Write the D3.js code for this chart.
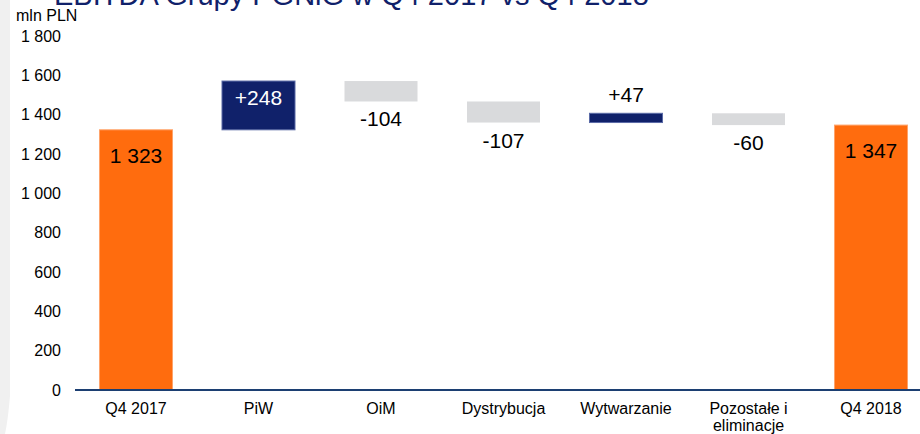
<!DOCTYPE html>
<html>
<head>
<meta charset="utf-8">
<script src="https://cdn.jsdelivr.net/npm/d3@7"></script>
<style>
  html, body { margin: 0; padding: 0; background: #ffffff; }
  svg { display: block; font-family: "Liberation Sans", Arial, sans-serif; }
</style>
</head>
<body>
<svg id="chart" width="920" height="434"></svg>
<script>
// EBITDA bridge, mln PLN
const categories = ["Q4 2017", "PiW", "OiM", "Dystrybucja", "Wytwarzanie", "Pozostałe i\neliminacje", "Q4 2018"];
const values = [1323, 248, -104, -107, 47, -60, 1347];
const kinds = ["total", "delta", "delta", "delta", "delta", "delta", "total"];
const yTicks = [0, 200, 400, 600, 800, 1000, 1200, 1400, 1600, 1800];
const titleText = "EBITDA Grupy PGNiG w Q4 2017 vs Q4 2018";
const unitText = "mln PLN";

const colors = { total: "#ff6c0e", up: "#10216a", down: "#d9dadc", axis: "#1c3f72", title: "#10216a" };

const svg = d3.select("#chart");
const W = 920, H = 434;

// page frame: grey strip on the left, white panel with rounded lower corner
svg.append("rect").attr("x", 0).attr("y", 0).attr("width", 14).attr("height", H).attr("fill", "#f0f0f0");
svg.append("path")
  .attr("d", `M10,0 L${W},0 L${W},${H} L5,${H} Q8,420 10,396 Z`)
  .attr("fill", "#ffffff");

const x = d3.scaleBand().domain(categories).range([74.75, 932.25]).paddingInner(0.404).paddingOuter(0.202);
const y = d3.scaleLinear().domain([0, 1800]).range([390, 36]);

// running totals for the bridge
let running = 0;
const bars = categories.map((c, i) => {
  const v = values[i];
  let lo, hi;
  if (kinds[i] === "total") { lo = 0; hi = v; running = v; }
  else { const s = running; running = s + v; lo = Math.min(s, running); hi = Math.max(s, running); }
  return { c, v, kind: kinds[i], lo, hi };
});

// title (runs past the top edge)
svg.append("text").attr("x", 54).attr("y", 5)
  .attr("fill", colors.title).attr("font-size", 29)
  .text(titleText);

svg.append("text").attr("x", 16).attr("y", 21).attr("font-size", 16).attr("fill", "#000").text(unitText);

// y axis labels
const fmt = v => d3.format(",")(v).replace(/,/g, " ");
const yAxis = d3.axisLeft(y).tickValues(yTicks).tickFormat(fmt).tickSize(0).tickPadding(0);
const gy = svg.append("g").attr("transform", "translate(61,0)").call(yAxis);
gy.select(".domain").remove();
gy.selectAll("text").attr("font-size", 16).attr("fill", "#000").attr("font-family", "Liberation Sans, Arial, sans-serif");

// bars
svg.append("g").selectAll("rect").data(bars).join("rect")
  .attr("x", d => x(d.c))
  .attr("width", x.bandwidth())
  .attr("y", d => y(d.hi))
  .attr("height", d => y(d.lo) - y(d.hi))
  .attr("fill", d => d.kind === "total" ? colors.total : (d.v > 0 ? colors.up : colors.down))
  .attr("stroke", d => d.kind === "total" ? "#ffa36a" : (d.v > 0 ? "#5a6aa6" : "none"))
  .attr("stroke-width", 1);

// x axis baseline
svg.append("line").attr("x1", 75).attr("x2", W).attr("y1", y(0)).attr("y2", y(0))
  .attr("stroke", colors.axis).attr("stroke-width", 2);

// category labels
const xl = svg.append("g").selectAll("text").data(bars).join("text")
  .attr("text-anchor", "middle").attr("font-size", 16).attr("fill", "#000")
  .attr("transform", d => `translate(${x(d.c) + x.bandwidth() / 2},414)`);
xl.selectAll("tspan").data(d => d.c.split("\n")).join("tspan")
  .attr("x", 0).attr("dy", (t, i) => i === 0 ? 0 : 17).text(t => t);

// value labels
const labelFmt = d => d.kind === "total" ? fmt(d.v) : (d.v > 0 ? "+" + d.v : String(d.v));
svg.append("g").selectAll("text").data(bars).join("text")
  .attr("text-anchor", "middle").attr("font-size", 21)
  .attr("x", d => x(d.c) + x.bandwidth() / 2)
  .attr("y", d => {
    if (d.kind === "total") return y(d.hi) + 33;
    if (d.v > 100) return y(d.hi) + 24;       // large increase: label inside the bar
    if (d.v > 0) return y(d.hi) - 11;         // small increase: label above
    return y(d.lo) + 25;                      // decrease: label below
  })
  .attr("fill", d => (d.kind === "delta" && d.v > 100) ? "#ffffff" : "#000")
  .text(labelFmt);
</script>
</body>
</html>
